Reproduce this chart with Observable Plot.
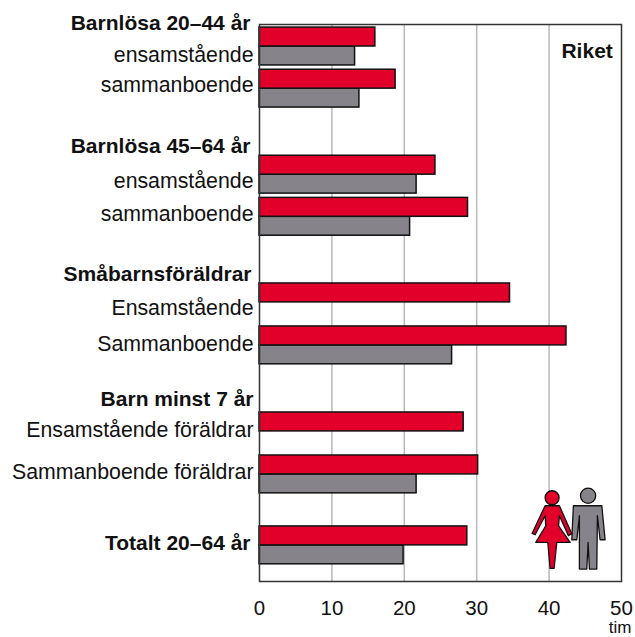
<!DOCTYPE html>
<html>
<head>
<meta charset="utf-8">
<style>html,body{margin:0;padding:0;background:#fff}</style>
<script src="https://cdn.jsdelivr.net/npm/d3@7"></script>
<script src="https://cdn.jsdelivr.net/npm/@observablehq/plot@0.6"></script>
</head>
<body>
<div id="chart"></div>
<script>
const rowLabels = ["ensamstående","sammanboende","ensamstående","sammanboende","Ensamstående","Sammanboende","Ensamstående föräldrar","Sammanboende föräldrar","Totalt 20–64 år"];
const women = [16, 18.8, 24.3, 28.8, 34.6, 42.4, 28.2, 30.2, 28.7];
const men = [13.2, 13.8, 21.7, 20.8, null, 26.6, null, 21.7, 19.9];
const rowPositions = [0, 0.98, 2.98, 3.96, 5.95, 6.95, 8.95, 9.95, 11.6];
const rowLabelPositions = [0.19, 0.91, 3.12, 3.9, 6.09, 6.93, 8.93, 9.9];
const groupLabels = ["Barnlösa 20–44 år","Barnlösa 45–64 år","Småbarnsföräldrar","Barn minst 7 år","Totalt 20–64 år"];
const groupLabelPositions = [-0.55, 2.33, 5.3, 8.2, 11.56];
const groupLabelInsets = [9, 9, 8, 6, 9];
const ticks = [0, 10, 20, 30, 40, 50];
const gridTicks = [10, 20, 30, 40];

const rows = rowLabels.map((label, i) => ({label, pos: rowPositions[i], women: women[i], men: men[i], labelPos: rowLabelPositions[i]}));
const groups = groupLabels.map((label, i) => ({label, pos: groupLabelPositions[i], inset: groupLabelInsets[i]}));
const barThickness = 0.44;
const font = "'Liberation Sans', Arial, sans-serif";

const woman = "M15 20H29.3L41.7 48L38.3 50L29.3 30L28.5 40L40 56.7H26.7L24 82.7H20L17.7 56.7H5.7L15.7 40L15 30L5 49L2 47.7Z";
const man = "M43.3 20H71.7L75 54H70L67.3 30L66.7 83.3H59.3L58 56.7L56.7 83.3H49.3V30L46.7 54H41.7Z";
const couple = "data:image/svg+xml," + encodeURIComponent(
  `<svg xmlns="http://www.w3.org/2000/svg" viewBox="0 0 80 90" width="80" height="90" stroke="#111" stroke-width="1.3" stroke-linejoin="round">` +
  `<path d="${man}" fill="#86838a"/><circle cx="58" cy="10" r="7.6" fill="#86838a"/>` +
  `<path d="${woman}" fill="#e2002a"/><circle cx="22" cy="12" r="7" fill="#e2002a"/></svg>`);

const chart = Plot.plot({
  width: 635,
  height: 637,
  marginLeft: 259,
  marginRight: 14,
  marginTop: 24,
  marginBottom: 56,
  style: {fontFamily: font, background: "#fff"},
  x: {domain: [0, 50], axis: null},
  y: {domain: [-0.5116, 12.44], range: [24, 581], axis: null},
  marks: [
    Plot.ruleX(gridTicks, {stroke: "#b9b9bd", strokeWidth: 1.5}),
    Plot.rectX(rows.filter(d => d.men != null), {x1: 0, x2: "men", y1: "pos", y2: d => d.pos + barThickness, fill: "#86838a", stroke: "#111", strokeWidth: 1.5}),
    Plot.rectX(rows, {x1: 0, x2: "women", y1: d => d.pos - barThickness, y2: "pos", fill: "#e2002a", stroke: "#111", strokeWidth: 1.5}),
    Plot.frame({stroke: "#333", strokeWidth: 1.5}),
    Plot.text(rows.filter(d => d.labelPos != null), {x: 0, y: "labelPos", text: "label", textAnchor: "end", dx: -6, fontSize: 21.3, fill: "#111"}),
    ...groups.map(g => Plot.text([g], {x: 0, y: "pos", text: "label", textAnchor: "end", dx: -g.inset, fontSize: 21, fontWeight: "bold", fill: "#111"})),
    Plot.text(["Riket"], {x: 48.8, y: 0.1, text: d => d, textAnchor: "end", fontSize: 21, fontWeight: "bold", fill: "#111"}),
    Plot.text(ticks, {x: d => d, y: 13.06, text: d => String(d), fontSize: 20.5, fill: "#111"}),
    Plot.text(["tim"], {x: 49.8, y: 13.5, text: d => d, fontSize: 17, fill: "#111"}),
    Plot.image(["couple"], {x: 42.9, y: 11.26, src: () => couple, width: 80, height: 90})
  ]
});
document.getElementById("chart").appendChild(chart);
</script>
</body>
</html>
